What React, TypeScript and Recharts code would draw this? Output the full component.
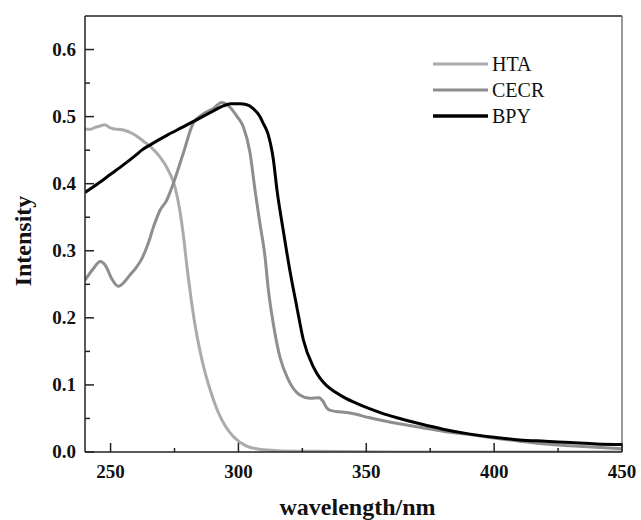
import React from 'react';
import { LineChart, Line, XAxis, YAxis, ReferenceLine, Legend } from 'recharts';

// wavelength (nm) / intensity
const HTA_WL = [240, 242, 244, 246, 247.8, 249.5, 251, 253, 255, 258.9, 262, 264, 266.5, 269.3, 272.6, 275.2, 277, 278.5, 280, 281.5, 283, 285, 287, 289, 292, 295, 298, 303, 308.4, 315, 330, 360, 400, 450];
const HTA_I = [0.481, 0.481, 0.484, 0.486, 0.488, 0.484, 0.482, 0.481, 0.480, 0.474, 0.466, 0.460, 0.452, 0.440, 0.420, 0.395, 0.362, 0.322, 0.272, 0.228, 0.190, 0.150, 0.118, 0.092, 0.060, 0.038, 0.023, 0.009, 0.004, 0.002, 0.001, 0, 0, 0];

const CECR_WL = [240, 243, 246, 248, 250.5, 253, 255.5, 257.6, 260, 262.2, 264.7, 267, 269.3, 271.9, 274.5, 278.4, 282.3, 286.2, 290.2, 293.4, 296.7, 299.5, 301.9, 304.5, 306.5, 308.4, 310.4, 311.7, 313.6, 316.2, 319.5, 324, 328, 331.5, 333, 334.5, 336, 343.6, 351.4, 360, 371, 380, 390.5, 400, 410, 420, 429.6, 440, 450];
const CECR_I = [0.256, 0.272, 0.284, 0.278, 0.258, 0.247, 0.254, 0.264, 0.275, 0.288, 0.311, 0.338, 0.360, 0.375, 0.400, 0.445, 0.490, 0.504, 0.512, 0.521, 0.514, 0.500, 0.485, 0.447, 0.390, 0.341, 0.291, 0.242, 0.192, 0.142, 0.108, 0.085, 0.080, 0.081, 0.076, 0.066, 0.062, 0.058, 0.051, 0.044, 0.037, 0.031, 0.026, 0.021, 0.016, 0.012, 0.0094, 0.007, 0.005];

const BPY_WL = [240, 245, 250, 255, 260, 262.2, 266, 272, 278, 284, 290, 294.1, 297, 300.6, 303, 305.8, 308.4, 309.7, 311.5, 313.7, 315.1, 317.5, 320.1, 322.8, 325.4, 329.3, 331.9, 334.5, 338, 342, 346, 351, 356, 362, 371, 380, 390, 400, 410, 420, 430, 440, 450];
const BPY_I = [0.387, 0.400, 0.414, 0.428, 0.443, 0.450, 0.459, 0.472, 0.484, 0.496, 0.508, 0.516, 0.519, 0.519, 0.518, 0.512, 0.500, 0.490, 0.475, 0.435, 0.390, 0.331, 0.271, 0.217, 0.167, 0.127, 0.110, 0.099, 0.089, 0.080, 0.073, 0.065, 0.058, 0.051, 0.042, 0.034, 0.027, 0.022, 0.018, 0.016, 0.014, 0.012, 0.011];

const X_TICKS = [250, 275, 300, 325, 350, 375, 400, 425, 450];
const X_LABELS = [250, 300, 350, 400, 450];
const Y_TICKS = [0, 0.05, 0.1, 0.15, 0.2, 0.25, 0.3, 0.35, 0.4, 0.45, 0.5, 0.55, 0.6];
const Y_LABELS = [0, 0.1, 0.2, 0.3, 0.4, 0.5, 0.6];

const SERIES = [
  { name: 'HTA', wl: HTA_WL, val: HTA_I, color: '#ababab' },
  { name: 'CECR', wl: CECR_WL, val: CECR_I, color: '#8e8e8e' },
  { name: 'BPY', wl: BPY_WL, val: BPY_I, color: '#000000' },
];

const FONT = '"Liberation Serif", "Times New Roman", serif';
const AXIS = '#222';

const toRows = (wl: number[], val: number[]) => wl.map((w, i) => ({ wl: w, v: val[i] }));

const XTick = (props: any) => {
  const { x, y, payload } = props;
  const major = X_LABELS.includes(payload.value);
  return (
    <g>
      <line x1={x} x2={x} y1={y} y2={y - (major ? 9 : 4)} stroke={AXIS} strokeWidth={1.5} />
      {major && (
        <text x={x} y={y + 26} textAnchor="middle" fontFamily={FONT} fontWeight="bold" fontSize={19} fill="#111">
          {payload.value}
        </text>
      )}
    </g>
  );
};

const YTick = (props: any) => {
  const { x, y, payload } = props;
  const major = Y_LABELS.some((v) => Math.abs(v - payload.value) < 1e-6);
  return (
    <g>
      <line x1={x} x2={x + (major ? 9 : 5)} y1={y} y2={y} stroke={AXIS} strokeWidth={1.5} />
      {major && (
        <text x={x - 9} y={y + 6} textAnchor="end" fontFamily={FONT} fontWeight="bold" fontSize={19} fill="#111">
          {payload.value.toFixed(1)}
        </text>
      )}
    </g>
  );
};

const YTitle = (props: any) => {
  const { viewBox } = props;
  const cx = viewBox.x + 23;
  const cy = viewBox.y + viewBox.height / 2 + 7;
  return (
    <text
      x={cx}
      y={cy}
      transform={`rotate(-90, ${cx}, ${cy})`}
      textAnchor="middle"
      dominantBaseline="central"
      fontFamily={FONT}
      fontWeight="bold"
      fontSize={24}
      fill="#111"
    >
      Intensity
    </text>
  );
};

const LegendBox = () => (
  <svg width={150} height={80}>
    {SERIES.map((s, i) => (
      <g key={s.name}>
        <line x1={0} x2={55} y1={12 + i * 26} y2={12 + i * 26} stroke={s.color} strokeWidth={s.name === 'BPY' ? 3.5 : 3} />
        <text x={59} y={19 + i * 26} fontFamily={FONT} fontSize={20} fill="#111">
          {s.name}
        </text>
      </g>
    ))}
  </svg>
);

export default function App() {
  return (
    <div style={{ position: 'absolute', left: 0, top: 0, background: '#fff' }}>
      <LineChart width={641} height={520} margin={{ top: 16, right: 19, bottom: 0, left: 0 }}>
        <XAxis
          type="number"
          dataKey="wl"
          domain={[240, 450]}
          ticks={X_TICKS}
          interval={0}
          allowDataOverflow
          tickSize={0}
          tickMargin={0}
          tickLine={false}
          tick={<XTick />}
          height={68}
          stroke={AXIS}
          strokeWidth={1.5}
          label={{ value: 'wavelength/nm', position: 'insideBottom', offset: 5, dx: 4, fontFamily: FONT, fontWeight: 'bold', fontSize: 24, fill: '#111' }}
        />
        <YAxis
          type="number"
          domain={[0, 0.65]}
          ticks={Y_TICKS}
          interval={0}
          allowDataOverflow
          tickSize={0}
          tickMargin={0}
          tickLine={false}
          tick={<YTick />}
          width={85}
          stroke={AXIS}
          strokeWidth={1.5}
          label={{ content: <YTitle /> }}
        />
        <ReferenceLine y={0.65} stroke={AXIS} strokeWidth={1.5} />
        <ReferenceLine x={450} stroke="#777" strokeWidth={1.5} />
        {SERIES.map((s) => (
          <Line
            key={s.name}
            name={s.name}
            data={toRows(s.wl, s.val)}
            dataKey="v"
            type="monotone"
            stroke={s.color}
            strokeWidth={3}
            dot={false}
            activeDot={false}
            isAnimationActive={false}
          />
        ))}
        <Legend
          layout="vertical"
          align="center"
          verticalAlign="middle"
          content={<LegendBox />}
          wrapperStyle={{ left: 433, top: 52, width: 150, height: 80 }}
        />
      </LineChart>
    </div>
  );
}
